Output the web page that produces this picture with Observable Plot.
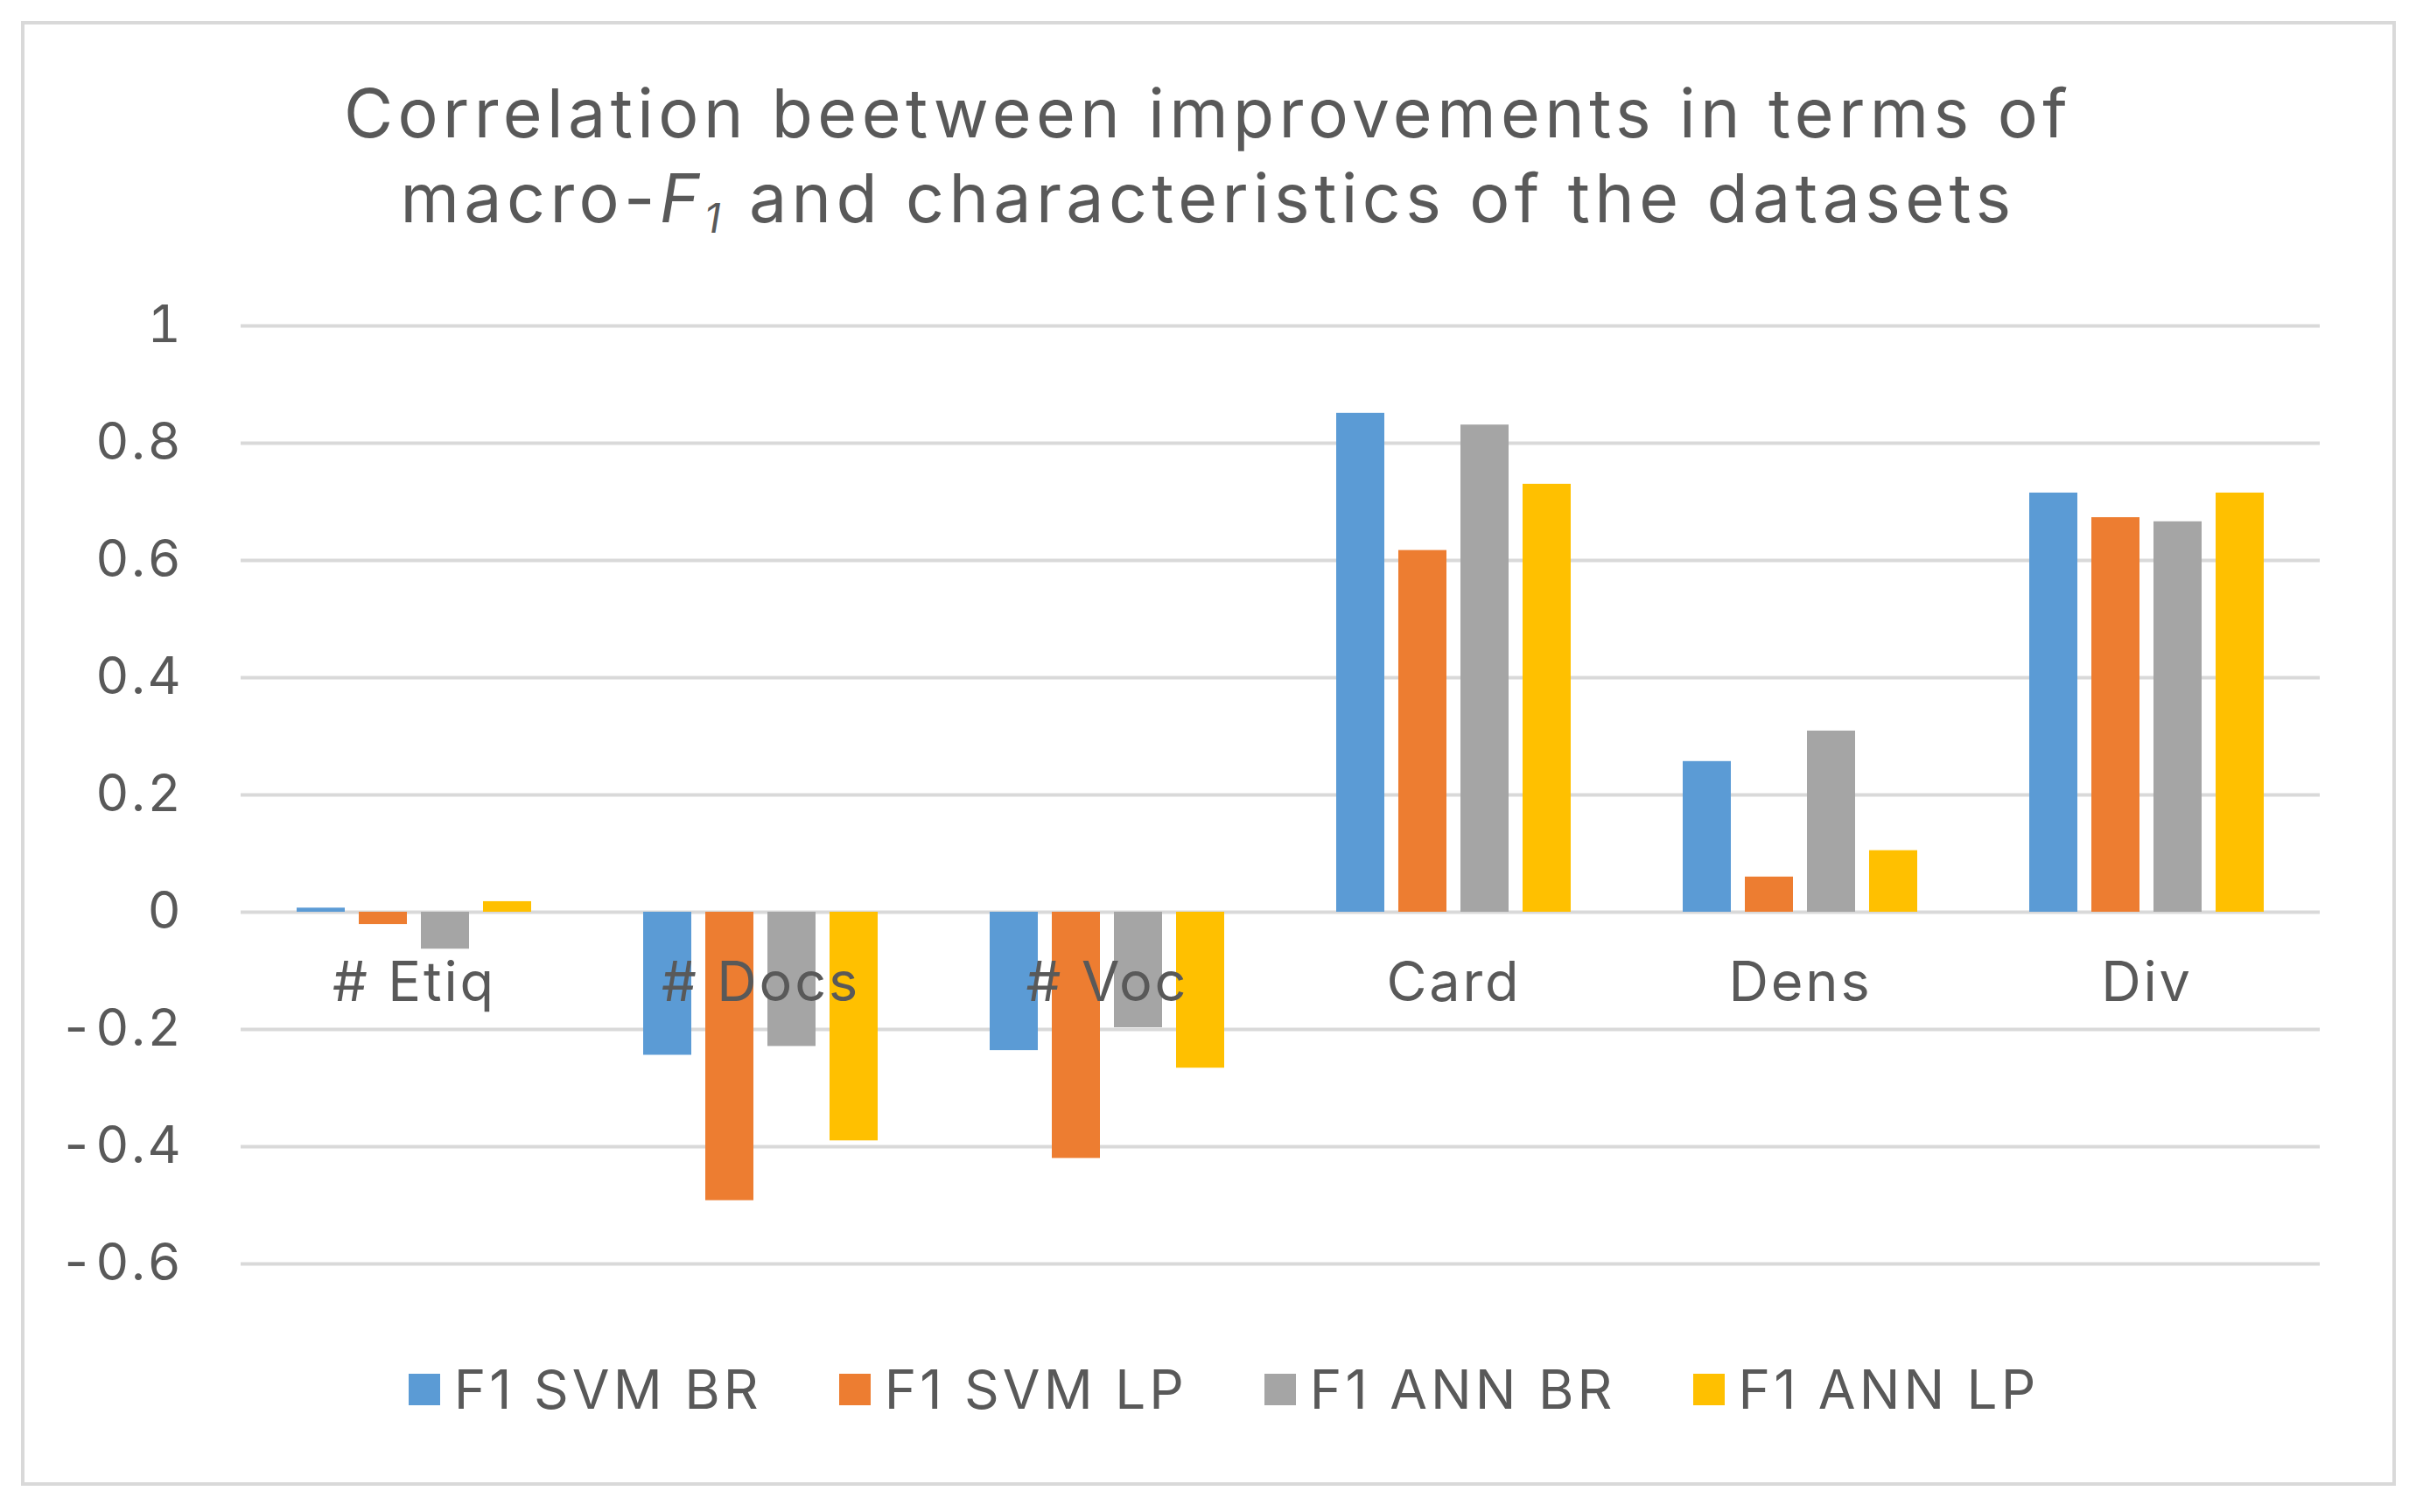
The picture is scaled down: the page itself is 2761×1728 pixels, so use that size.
<!DOCTYPE html>
<html>
<head>
<meta charset="utf-8">
<script src="https://cdn.jsdelivr.net/npm/d3@7"></script>
<script src="https://cdn.jsdelivr.net/npm/@observablehq/plot@0.6"></script>
<style>
  html, body { margin: 0; padding: 0; background: #ffffff; }
  body { width: 2761px; height: 1728px; position: relative; overflow: hidden; font-family: Inter, "Open Sans", sans-serif; color: #595959; }
  #frame { position: absolute; left: 24px; top: 24px; width: 2714px; height: 1674px; box-sizing: border-box; border: 4px solid #d9d9d9; }
  #title { position: absolute; left: 0; width: 2761px; top: 81px; text-align: center; font-size: 77px; line-height: 97px; letter-spacing: 0.07em; color: #595959; }
  #title sub { font-size: 0.6em; vertical-align: -0.25em; line-height: 0; }
  #chart { position: absolute; left: 0; top: 300px; }
  #chart svg text { letter-spacing: 0.045em; }
  #legend { position: absolute; left: 18px; width: 2761px; top: 1550px; display: flex; justify-content: center; }
  #legend .leg-swatches { font-size: 62px !important; font-family: Inter, "Open Sans", sans-serif !important; color: #595959 !important; letter-spacing: 0.065em; }
  #legend .leg-swatch { margin-right: 88px !important; }
  #legend .leg-swatch:last-child { margin-right: 0 !important; }
  #legend .leg-swatch > svg { margin-right: 16px !important; }
</style>
</head>
<body>
<div id="frame"></div>
<div id="title">Correlation beetween improvements in terms of<br>macro-<i>F<sub>1</sub></i> and characteristics of the datasets</div>
<div id="chart"></div>
<div id="legend"></div>
<script>
const categories = ["# Etiq", "# Docs", "# Voc", "Card", "Dens", "Div"];
const seriesNames = ["F1 SVM BR", "F1 SVM LP", "F1 ANN BR", "F1 ANN LP"];
const seriesColors = ["#5b9bd5", "#ed7d31", "#a5a5a5", "#ffc000"];
const svmBR = [0.007, -0.244, -0.236, 0.851, 0.257, 0.715];
const svmLP = [-0.021, -0.492, -0.420, 0.617, 0.060, 0.673];
const annBR = [-0.063, -0.229, -0.197, 0.831, 0.309, 0.666];
const annLP = [0.018, -0.390, -0.266, 0.730, 0.105, 0.715];
const yTicks = [-0.6, -0.4, -0.2, 0, 0.2, 0.4, 0.6, 0.8, 1];

const seriesValues = [svmBR, svmLP, annBR, annLP];
const rows = [];
categories.forEach((c, i) => {
  seriesNames.forEach((s, j) => rows.push({cat: c, series: s, value: seriesValues[j][i]}));
});

const chart = Plot.plot({
  width: 2761,
  height: 1230,
  marginTop: 72,
  marginBottom: 86,
  marginLeft: 273,
  marginRight: 109,
  style: {fontFamily: "Inter, 'Open Sans', sans-serif", color: "#595959", background: "transparent"},
  fx: {domain: categories, paddingInner: 0, paddingOuter: 0, axis: null},
  x: {domain: seriesNames, paddingInner: 0.222, paddingOuter: 0.865, axis: null},
  y: {domain: [-0.6, 1], axis: null},
  color: {domain: seriesNames, range: seriesColors},
  marks: [
    Plot.ruleY(yTicks, {stroke: "#d9d9d9", strokeWidth: 4}),
    Plot.barY(rows, {fx: "cat", x: "series", y: "value", fill: "series", inset: 0}),
    Plot.axisY({ticks: yTicks, tickSize: 0, tickPadding: 66, fontSize: 59, fill: "#595959", tickFormat: d => String(d), label: null, facetAnchor: "left"}),
    Plot.text(categories, {fx: d => d, y: () => 0, text: d => d, dy: 81, fontSize: 63, fill: "#595959", lineAnchor: "middle"})
  ]
});
document.getElementById("chart").appendChild(chart);

const leg = Plot.legend({
  color: {domain: seriesNames, range: seriesColors},
  legend: "swatches",
  swatchSize: 36,
  className: "leg"
});
document.getElementById("legend").appendChild(leg);
</script>
</body>
</html>
